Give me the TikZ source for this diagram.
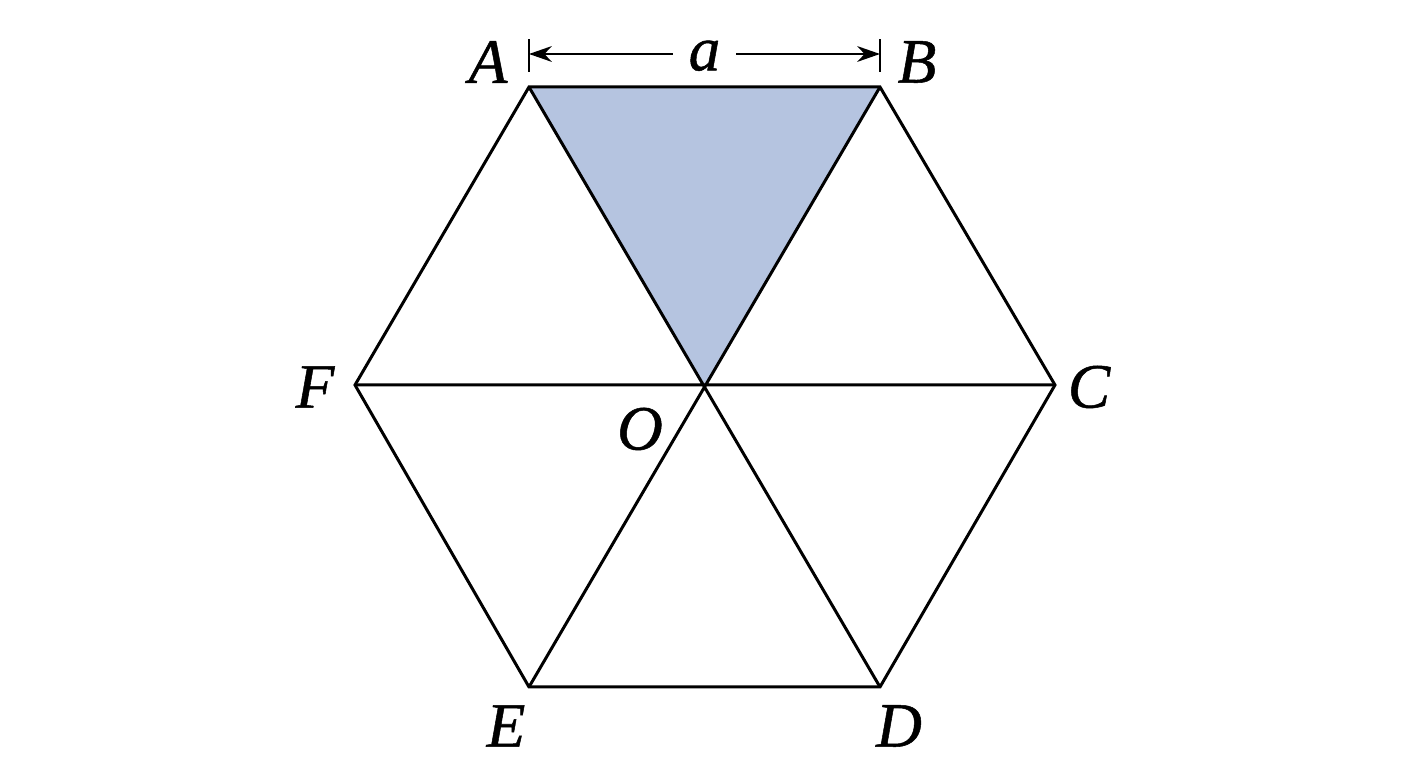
\documentclass[tikz,border=0pt]{standalone}
\usepackage{fontspec}
\setmainfont{Liberation Serif}
\newfontfamily\lblfont[FakeBold=0.8]{Liberation Serif Italic}
\usetikzlibrary{arrows.meta,calc}
\definecolor{shadeblue}{RGB}{181,196,224}

\begin{document}
\begin{tikzpicture}[
    edge/.style={line width=1.7pt, line join=miter},
    lbl/.style={font=\lblfont\fontsize{36}{43}\selectfont, inner sep=0pt},
    dim/.style={line width=1pt}
  ]
\useasboundingbox (0,0) rectangle (28.16,15.36);
\def\ytop{13.62} \def\ybot{1.62}

% vertices of the hexagon
\coordinate (A) at (10.58,\ytop);
\coordinate (B) at (17.60,\ytop);
\coordinate (C) at (21.10,7.66);
\coordinate (D) at (17.60,\ybot);
\coordinate (E) at (10.58,\ybot);
\coordinate (F) at (7.10,7.66);
\coordinate (O) at (14.10,7.66);

% shaded triangle
\fill[shadeblue] (A)--(B)--(O)--cycle;

% outline and diagonals
\draw[edge] (A)--(B)--(C)--(D)--(E)--(F)--cycle;
\draw[edge] (A)--(D) (B)--(E) (F)--(C);

% labels
\node[lbl] (lA) at (9.76,14.12) {A};
\node[lbl] (lB) at (18.34,14.12) {B};
\node[lbl] (lC) at (21.78,7.62) {C};
\node[lbl] (lD) at (17.98,0.84) {D};
\node[lbl] (lE) at (10.12,0.84) {E};
\node[lbl] (lF) at (6.30,7.62) {F};
\node[lbl] (lO) at (12.80,6.78) {O};

% dimension line
\coordinate (tl) at (10.58,14.28);
\coordinate (tr) at (17.60,14.28);
\draw[dim] ($(tl)+(0,-0.36)$) -- ($(tl)+(0,0.3)$);
\draw[dim] ($(tr)+(0,-0.36)$) -- ($(tr)+(0,0.3)$);
\draw[dim, {Stealth[length=13pt,width=9pt]}-{Stealth[length=13pt,width=9pt]}]
  (tl) -- node[lbl, fill=white, inner xsep=9pt, yshift=-1pt] (la) {a} (tr);
\end{tikzpicture}
\end{document}
